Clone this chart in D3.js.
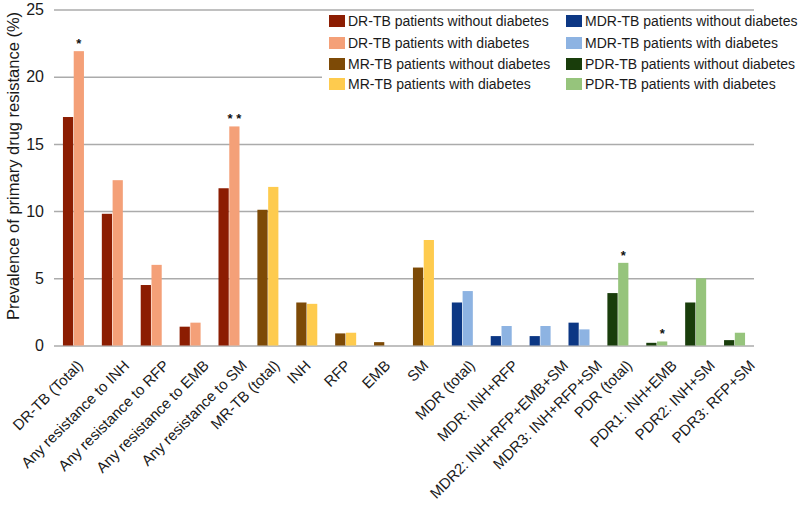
<!DOCTYPE html>
<html>
<head>
<meta charset="utf-8">
<script src="https://cdn.jsdelivr.net/npm/d3@7"></script>
<style>
  body { margin: 0; background: #fff; }
  svg { display: block; font-family: "Liberation Sans", Arial, sans-serif; }
</style>
</head>
<body>
<div id="chart"></div>
<script>
// categories along the x axis
const categories = [
  "DR-TB (Total)", "Any resistance to INH", "Any resistance to RFP",
  "Any resistance to EMB", "Any resistance to SM", "MR-TB (total)",
  "INH", "RFP", "EMB", "SM", "MDR (total)", "MDR: INH+RFP",
  "MDR2: INH+RFP+EMB+SM", "MDR3: INH+RFP+SM", "PDR (total)",
  "PDR1: INH+EMB", "PDR2: INH+SM", "PDR3: RFP+SM"
];

// which resistance group each category belongs to
const groups = [
  "DR", "DR", "DR", "DR", "DR", "MR",
  "MR", "MR", "MR", "MR", "MDR", "MDR",
  "MDR", "MDR", "PDR", "PDR", "PDR", "PDR"
];

// prevalence (%) in patients without / with diabetes
const withoutDiabetes = [17.0, 9.8, 4.5, 1.4, 11.7, 10.1, 3.2, 0.9, 0.25, 5.8, 3.2, 0.7, 0.7, 1.7, 3.9, 0.2, 3.2, 0.4];
const withDiabetes    = [21.9, 12.3, 6.0, 1.7, 16.3, 11.8, 3.1, 0.95, 0, 7.85, 4.05, 1.45, 1.45, 1.2, 6.15, 0.3, 5.0, 0.95];

// significance markers over the "with diabetes" bar
const markCategories = ["DR-TB (Total)", "Any resistance to SM", "PDR (total)", "PDR1: INH+EMB"];
const markLabels = ["*", "* *", "*", "*"];

const yTicks = [0, 5, 10, 15, 20, 25];

// colours per group: [without, with]
const groupColors = {
  DR:  ["#8c1d02", "#f4a078"],
  MR:  ["#7d4a06", "#fecb4e"],
  MDR: ["#0c3784", "#8db3e2"],
  PDR: ["#193d0b", "#96c47c"]
};

const legendLabels = [
  "DR-TB patients without diabetes", "DR-TB patients with diabetes",
  "MR-TB patients without diabetes", "MR-TB patients with diabetes",
  "MDR-TB patients without diabetes", "MDR-TB patients with diabetes",
  "PDR-TB patients without diabetes", "PDR-TB patients with diabetes"
];
const legendColors = [
  groupColors.DR[0], groupColors.DR[1], groupColors.MR[0], groupColors.MR[1],
  groupColors.MDR[0], groupColors.MDR[1], groupColors.PDR[0], groupColors.PDR[1]
];

const W = 810, H = 514;
const X0 = 54, X1 = 754, Y0 = 345.5, Y1 = 9.5;

const svg = d3.select("#chart").append("svg")
  .attr("width", W)
  .attr("height", H);

const x = d3.scaleBand()
  .domain(categories)
  .range([X0, X1])
  .paddingInner(0.46)
  .paddingOuter(0.23);

const sub = d3.scaleBand()
  .domain(["without", "with"])
  .range([0, x.bandwidth()])
  .paddingInner(0.05);

const y = d3.scaleLinear()
  .domain([0, 25])
  .range([Y0, Y1]);

// gridlines + y labels
const yAxis = d3.axisLeft(y)
  .tickValues(yTicks)
  .tickSize(-(X1 - X0))
  .tickPadding(10);

svg.append("g")
  .attr("transform", `translate(${X0},0)`)
  .call(yAxis)
  .call(g => g.select(".domain").remove())
  .call(g => g.selectAll(".tick line").attr("stroke", "#ababab").attr("stroke-width", 1.5))
  .call(g => g.selectAll(".tick text")
    .attr("font-size", 16)
    .attr("fill", "#1a1a1a")
    .attr("font-family", "Liberation Sans, Arial, sans-serif"));

// y title
svg.append("text")
  .attr("transform", `translate(19,166) rotate(-90)`)
  .attr("text-anchor", "middle")
  .attr("font-size", 16.5)
  .attr("fill", "#1a1a1a")
  .text("Prevalence of primary drug resistance (%)");

// bars
const data = categories.map((c, i) => ({
  cat: c, group: groups[i], without: withoutDiabetes[i], with: withDiabetes[i]
}));

const cat = svg.append("g").selectAll("g")
  .data(data)
  .enter().append("g")
  .attr("transform", d => `translate(${x(d.cat)},0)`);

cat.selectAll("rect")
  .data(d => [
    { key: "without", v: d.without, color: groupColors[d.group][0] },
    { key: "with", v: d.with, color: groupColors[d.group][1] }
  ])
  .enter().append("rect")
  .attr("x", d => sub(d.key))
  .attr("y", d => y(d.v))
  .attr("width", sub.bandwidth())
  .attr("height", d => Y0 - y(d.v))
  .attr("fill", d => d.color);

// asterisks
svg.append("g").selectAll("text")
  .data(markCategories.map((c, i) => ({ cat: c, label: markLabels[i] })))
  .enter().append("text")
  .attr("x", d => x(d.cat) + sub("with") + sub.bandwidth() / 2)
  .attr("y", d => y(withDiabetes[categories.indexOf(d.cat)]) - 3)
  .attr("text-anchor", "middle")
  .attr("font-size", 13)
  .attr("font-weight", "bold")
  .attr("fill", "#111")
  .text(d => d.label);

// x labels (longer labels and later ones sit a little further right, like the original)
svg.append("g").selectAll("text")
  .data(categories)
  .enter().append("text")
  .attr("text-anchor", "end")
  .attr("font-size", 15)
  .attr("fill", "#1a1a1a")
  .text(d => d)
  .attr("transform", function(d, i) {
    const len = this.getComputedTextLength();
    const shift = 0.13 * len + 0.5 * i - 1.5;
    return `translate(${x(d) + x.bandwidth() / 2 + shift},${Y0 + 21}) rotate(-45)`;
  });

// legend
const legend = svg.append("g");
legend.append("rect")
  .attr("x", 322).attr("y", 12)
  .attr("width", X1 - 322 + 40).attr("height", 82)
  .attr("fill", "#fff");

const legendRowY = [21, 43, 64, 84];
const item = legend.selectAll("g")
  .data(legendLabels)
  .enter().append("g")
  .attr("transform", (d, i) => `translate(${i < 4 ? 329 : 566},${legendRowY[i % 4]})`);

item.append("rect")
  .attr("x", 0).attr("y", -6)
  .attr("width", 16).attr("height", 12)
  .attr("fill", (d, i) => legendColors[i]);

item.append("text")
  .attr("x", 19)
  .attr("y", 5)
  .attr("font-size", 14)
  .attr("fill", "#1a1a1a")
  .text(d => d);
</script>
</body>
</html>
